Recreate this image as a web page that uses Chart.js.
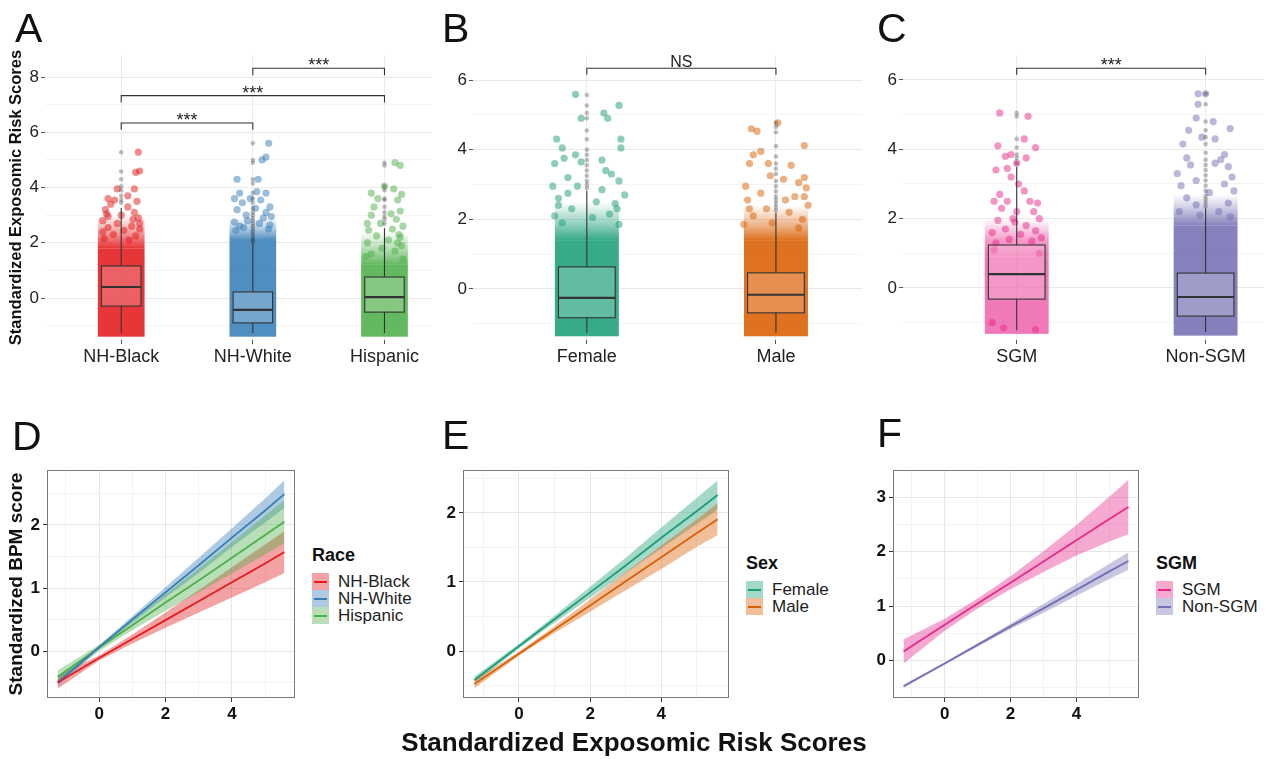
<!DOCTYPE html>
<html>
<head>
<meta charset="utf-8">
<script src="https://cdn.jsdelivr.net/npm/chart.js@4/dist/chart.umd.min.js"></script>
<style>
  body { margin: 0; background: #fff; font-family: 'Liberation Sans', Arial, sans-serif; }
  #page { position: relative; width: 1268px; height: 759px; overflow: hidden; }
  canvas { position: absolute; }
  .letter { position: absolute; font-size: 41px; line-height: 1; color: #111; }
  .xtitle { position: absolute; left: 0; width: 1268px; top: 729px; text-align: center; font-size: 26px; font-weight: bold; line-height: 1; color: #111; }
  .leg { position: absolute; color: #222; }
  .leg .t { font-weight: bold; font-size: 18px; line-height: 1; color: #111; margin-bottom: 9px; }
  .leg .row { display: flex; align-items: center; height: 17px; font-size: 17px; }
  .leg .key { width: 17px; height: 17px; position: relative; margin-right: 9px; }
  .leg .key span { position: absolute; left: 2px; right: 2px; top: 7.5px; height: 2px; }
</style>
</head>
<body>
<div id="page">
  <canvas id="cA" width="436" height="380" style="left:0;top:0"></canvas>
  <canvas id="cB" width="430" height="380" style="left:436px;top:0"></canvas>
  <canvas id="cC" width="402" height="380" style="left:866px;top:0"></canvas>
  <canvas id="cD" width="300" height="330" style="left:0;top:400px"></canvas>
  <canvas id="cE" width="304" height="330" style="left:430px;top:400px"></canvas>
  <canvas id="cF" width="294" height="330" style="left:850px;top:400px"></canvas>

  <div class="letter" style="left:15px;top:8px">A</div>
  <div class="letter" style="left:442px;top:8px">B</div>
  <div class="letter" style="left:877px;top:8px">C</div>
  <div class="letter" style="left:12px;top:416px">D</div>
  <div class="letter" style="left:442px;top:415px">E</div>
  <div class="letter" style="left:877px;top:413px">F</div>
  <div class="xtitle">Standardized Exposomic Risk Scores</div>
</div>
<script>
// ---------- top row: exposomic risk score by group ----------
const raceGroups = ['NH-Black', 'NH-White', 'Hispanic'];
const raceColors = ['#E41A1C', '#377EB8', '#4DAF4A'];
const raceQ1 = [-0.29, -0.90, -0.51];
const raceMedian = [0.40, -0.43, 0.03];
const raceQ3 = [1.16, 0.22, 0.76];
const raceLow = [-1.27, -1.27, -1.27];
const raceHigh = [3.26, 2.00, 2.53];
const raceDenseTop = [1.8, 2.1, 1.2];
const raceFadeTop = [3.0, 2.9, 2.4];
const raceSparse = [
  [[-0.12,3.2],[-0.08,3.4],[0.05,3.3],[0.1,3.1],[0.13,2.9],[-0.14,2.8],[-0.03,2.7],[0.08,2.6],[0.14,2.5],[-0.1,2.55],[0.02,2.45],[-0.06,2.3],[0.11,2.25],[-0.13,2.15],[0.06,2.1],[0.0,3.0],[-0.1,3.6],[0.05,3.7],[0.1,3.95],[-0.03,3.95],[0.11,4.55],[0.14,4.6],[0.13,5.28],[-0.1,2.95],[0.12,3.5],[-0.05,3.55],[-0.14,2.4],[0.14,2.7],[-0.11,3.05],[0.09,2.85]],
  [[-0.1,2.6],[0.05,2.7],[0.12,2.5],[-0.13,2.45],[0.08,2.9],[-0.05,3.0],[0.1,3.1],[-0.12,3.2],[0.02,3.25],[0.13,3.3],[-0.08,3.45],[0.06,3.55],[-0.14,3.6],[0.1,3.8],[-0.1,3.8],[0.03,3.85],[-0.12,4.3],[0.04,4.3],[0.07,5.0],[0.1,5.1],[0.12,5.6],[-0.04,2.8],[0.14,2.95],[-0.02,3.6],[-0.14,2.75],[0.13,2.65],[-0.07,2.55]],
  [[-0.1,1.6],[0.08,1.7],[0.13,1.9],[-0.13,2.0],[0.03,2.1],[-0.06,2.25],[0.11,2.3],[-0.12,2.45],[0.06,2.5],[0.14,2.6],[-0.03,2.7],[0.09,2.85],[-0.1,3.0],[0.05,3.05],[0.12,3.15],[-0.08,3.3],[0.1,3.55],[-0.05,3.6],[0.13,3.75],[-0.1,3.8],[0.07,3.95],[0.0,4.05],[0.12,4.8],[0.08,4.9],[-0.02,1.8],[0.1,2.0],[-0.14,1.5],[0.14,1.4],[-0.13,2.7],[0.12,2.2]]
];
const raceOutliers = [
  [3.45, 3.55, 3.7, 3.9, 4.05, 4.3, 4.58, 5.28],
  [2.05, 2.1, 2.2, 2.3, 2.4, 2.5, 2.6, 2.7, 2.8, 2.9, 3.0, 3.1, 3.25, 3.45, 3.6, 3.8, 4.15, 4.3, 4.9, 5.0, 5.6],
  [2.7, 2.85, 2.95, 3.1, 3.3, 3.55, 3.6, 3.9, 4.05, 4.8, 4.9]
];
const raceBrackets = [[1, 2, 6.34, '***'], [1, 3, 7.33, '***'], [2, 3, 8.32, '***']];
const riskGridA = [-1, 0, 1, 2, 3, 4, 5, 6, 7, 8];
const riskLabelsA = [0, 2, 4, 6, 8];

const sexGroups = ['Female', 'Male'];
const sexColors = ['#1B9E77', '#D95F02'];
const sexQ1 = [-0.83, -0.69];
const sexMedian = [-0.26, -0.17];
const sexQ3 = [0.63, 0.46];
const sexLow = [-1.26, -1.26];
const sexHigh = [2.82, 2.18];
const sexDenseTop = [1.4, 1.4];
const sexFadeTop = [2.5, 2.4];
const sexSparse = [
  [[-0.06,5.59],[0.17,5.27],[0.09,5.05],[0.11,4.9],[-0.03,4.9],[-0.16,4.3],[0.18,4.3],[-0.13,4.05],[0.18,4.05],[-0.06,3.85],[0.08,3.7],[-0.17,3.6],[-0.12,3.75],[-0.03,3.65],[0.13,3.3],[0.17,3.1],[0.2,2.7],[-0.18,2.95],[-0.05,2.95],[0.1,3.4],[-0.1,3.2],[0.05,2.5],[-0.15,2.6],[0.15,2.45],[-0.08,2.3],[0.12,2.15],[-0.17,2.1],[0.03,2.05],[-0.13,1.9],[0.17,1.85],[-0.1,2.75],[0.08,2.85],[0.16,2.3],[-0.15,2.4]],
  [[0.01,4.77],[-0.13,4.6],[-0.1,4.53],[0.15,4.12],[-0.08,3.95],[-0.12,3.85],[-0.14,3.6],[-0.04,3.6],[0.08,3.55],[0.04,3.15],[-0.03,3.25],[0.15,3.2],[0.12,3.05],[0.16,2.9],[-0.16,2.95],[-0.08,2.75],[0.1,2.65],[-0.15,2.55],[0.17,2.4],[-0.05,2.3],[0.07,2.2],[-0.12,2.1],[0.14,2.0],[-0.02,1.9],[-0.17,1.85],[0.12,1.75],[-0.14,2.3],[0.05,2.55],[0.15,2.65]]
];
const sexOutliers = [
  [2.9, 3.0, 3.1, 3.25, 3.4, 3.55, 3.7, 3.85, 4.0, 4.3, 4.55, 4.9, 5.05, 5.27, 5.57],
  [2.25, 2.35, 2.45, 2.55, 2.65, 2.8, 2.95, 3.1, 3.3, 3.45, 3.6, 3.8, 4.1, 4.5, 4.65, 4.77]
];
const sexBrackets = [[1, 2, 6.34, 'NS']];

const sgmGroups = ['SGM', 'Non-SGM'];
const sgmColors = ['#E7298A', '#7570B3'];
const sgmQ1 = [-0.32, -0.81];
const sgmMedian = [0.40, -0.26];
const sgmQ3 = [1.24, 0.43];
const sgmLow = [-1.22, -1.27];
const sgmHigh = [3.49, 2.29];
const sgmDenseTop = [0.9, 1.8];
const sgmFadeTop = [2.0, 2.7];
const sgmSparse = [
  [[-0.09,5.05],[0.06,4.95],[-0.1,4.1],[0.1,4.05],[0.04,4.3],[-0.06,3.8],[-0.03,3.85],[-0.05,3.45],[-0.11,3.4],[0.05,3.75],[0.0,3.6],[-0.03,3.2],[0.01,3.0],[-0.09,2.7],[-0.05,2.5],[0.07,2.5],[0.11,2.45],[-0.12,2.5],[-0.08,2.3],[0.09,2.2],[0.12,2.0],[-0.02,2.0],[-0.1,1.95],[0.05,1.8],[-0.06,1.7],[0.1,1.65],[-0.13,1.6],[0.02,1.55],[0.13,1.45],[-0.04,1.4],[0.08,1.35],[-0.11,1.3],[0.0,2.2],[0.04,2.8],[-0.01,1.9],[-0.12,1.1],[0.12,1.0],[-0.07,-1.15],[0.1,-1.2],[-0.13,-1.0]],
  [[-0.04,5.6],[-0.04,5.3],[0.0,5.6],[-0.05,4.9],[0.04,4.8],[-0.09,4.55],[0.13,4.6],[0.05,4.3],[-0.12,4.15],[-0.02,4.35],[-0.1,3.75],[0.1,3.85],[0.08,3.7],[-0.08,3.55],[0.12,3.5],[0.05,3.6],[-0.15,3.3],[0.14,3.2],[-0.05,3.1],[0.1,3.0],[-0.13,2.95],[0.15,2.8],[0.02,2.75],[-0.1,2.6],[0.12,2.45],[-0.05,2.4],[0.07,2.2],[-0.14,2.2],[0.13,2.05],[-0.03,2.1]]
];
const sgmOutliers = [
  [3.6, 3.75, 3.85, 4.05, 4.3, 4.95, 5.05],
  [2.35, 2.45, 2.55, 2.65, 2.8, 2.95, 3.1, 3.25, 3.4, 3.55, 3.7, 3.9, 4.15, 4.35, 4.55, 4.8, 5.3, 5.6]
];
const sgmBrackets = [[1, 2, 6.34, '***']];
const riskGridBC = [-1, 0, 1, 2, 3, 4, 5, 6];
const riskLabelsBC = [0, 2, 4, 6];

// ---------- bottom row: fitted BPM score vs risk score ----------
const fitX = [-1.25, 0, 1, 2, 3, 4, 5, 5.58];
const raceFit = [
  [-0.50, -0.11, 0.19, 0.49, 0.79, 1.09, 1.39, 1.57],
  [-0.50, 0.06, 0.50, 0.93, 1.36, 1.80, 2.23, 2.49],
  [-0.41, 0.05, 0.41, 0.77, 1.12, 1.48, 1.84, 2.05]
];
const raceLo = [
  [-0.60, -0.15, 0.12, 0.37, 0.61, 0.85, 1.09, 1.24],
  [-0.56, 0.03, 0.45, 0.85, 1.24, 1.65, 2.04, 2.27],
  [-0.51, 0.00, 0.33, 0.64, 0.93, 1.23, 1.53, 1.71]
];
const raceHi = [
  [-0.39, -0.07, 0.26, 0.61, 0.97, 1.33, 1.69, 1.90],
  [-0.44, 0.09, 0.55, 1.01, 1.48, 1.95, 2.42, 2.71],
  [-0.31, 0.10, 0.49, 0.90, 1.31, 1.73, 2.15, 2.39]
];
const sexFit = [
  [-0.42, 0.07, 0.46, 0.85, 1.24, 1.64, 2.03, 2.26],
  [-0.48, -0.04, 0.31, 0.66, 1.01, 1.36, 1.71, 1.91]
];
const sexLo = [
  [-0.47, 0.04, 0.41, 0.77, 1.13, 1.49, 1.84, 2.05],
  [-0.54, -0.07, 0.26, 0.57, 0.88, 1.19, 1.51, 1.68]
];
const sexHi = [
  [-0.37, 0.10, 0.51, 0.93, 1.35, 1.79, 2.22, 2.47],
  [-0.42, -0.01, 0.36, 0.75, 1.14, 1.53, 1.91, 2.14]
];
const sgmFit = [
  [0.17, 0.66, 1.05, 1.43, 1.82, 2.21, 2.60, 2.82],
  [-0.47, -0.05, 0.29, 0.63, 0.96, 1.30, 1.64, 1.83]
];
const sgmLo = [
  [-0.05, 0.55, 0.96, 1.31, 1.63, 1.93, 2.19, 2.32],
  [-0.50, -0.07, 0.26, 0.58, 0.88, 1.19, 1.50, 1.67]
];
const sgmHi = [
  [0.39, 0.77, 1.14, 1.55, 2.01, 2.49, 3.01, 3.32],
  [-0.44, -0.03, 0.32, 0.68, 1.04, 1.41, 1.78, 1.99]
];
const scoreGridX = [-1, 0, 1, 2, 3, 4, 5];
const scoreLabelsX = [0, 2, 4];
const bpmGridDE = [-0.5, 0, 0.5, 1, 1.5, 2, 2.5];
const bpmLabelsDE = [0, 1, 2];
const bpmGridF = [-0.5, 0, 0.5, 1, 1.5, 2, 2.5, 3, 3.5];
const bpmLabelsF = [0, 1, 2, 3];

const FONT = "'Liberation Sans', Arial, sans-serif";
Chart.defaults.font.family = FONT;
Chart.defaults.animation = false;

function hexA(hex, a) {
  const n = parseInt(hex.slice(1), 16);
  return `rgba(${n >> 16},${(n >> 8) & 255},${n & 255},${a})`;
}

function boxPanel(id, p) {
  const datasets = [];
  p.groups.forEach((g, i) => {
    datasets.push({
      data: p.sparse[i].map(([dx, y]) => ({ x: i + 1 + dx, y })),
      backgroundColor: hexA(p.colors[i], 0.5), borderWidth: 0, pointRadius: 3.6, order: 2
    });
    datasets.push({
      data: p.outliers[i].map(y => ({ x: i + 1, y })),
      backgroundColor: 'rgba(40,40,40,0.3)', borderWidth: 0, pointRadius: 2.3, order: 1
    });
  });

  // jitter cloud, boxes and significance brackets
  const layer = {
    id: 'boxLayer',
    beforeDatasetsDraw(chart) {
      const { ctx, scales: { x, y } } = chart;
      p.groups.forEach((g, i) => {
        const l = x.getPixelForValue(i + 1 - 0.15) - 3.6;
        const r = x.getPixelForValue(i + 1 + 0.15) + 3.6;
        const bot = y.getPixelForValue(p.low[i]) + 3.6;
        const dense = y.getPixelForValue(p.dense[i]);
        const fade = y.getPixelForValue(p.fade[i]);
        ctx.fillStyle = hexA(p.colors[i], p.denseAlpha[i]);
        ctx.fillRect(l, dense, r - l, bot - dense);
        // thinning of the cloud towards the top
        const grad = ctx.createLinearGradient(0, dense, 0, fade);
        grad.addColorStop(0, hexA(p.colors[i], p.denseAlpha[i]));
        grad.addColorStop(0.45, hexA(p.colors[i], 0.45));
        grad.addColorStop(1, hexA(p.colors[i], 0));
        ctx.fillStyle = grad;
        ctx.fillRect(l, fade, r - l, dense - fade);
      });
    },
    afterDatasetsDraw(chart) {
      const { ctx, scales: { x, y } } = chart;
      ctx.save();
      ctx.strokeStyle = '#333';
      p.groups.forEach((g, i) => {
        const cx = x.getPixelForValue(i + 1);
        const l = x.getPixelForValue(i + 1 - 0.15);
        const r = x.getPixelForValue(i + 1 + 0.15);
        const q1 = y.getPixelForValue(p.q1[i]), q3 = y.getPixelForValue(p.q3[i]);
        const md = y.getPixelForValue(p.med[i]);
        ctx.lineWidth = 1.1;
        ctx.beginPath();
        ctx.moveTo(cx, q3); ctx.lineTo(cx, y.getPixelForValue(p.high[i]));
        ctx.moveTo(cx, q1); ctx.lineTo(cx, y.getPixelForValue(p.low[i]));
        ctx.stroke();
        ctx.fillStyle = 'rgba(255,255,255,0.22)';
        ctx.fillRect(l, q3, r - l, q1 - q3);
        ctx.strokeRect(l, q3, r - l, q1 - q3);
        ctx.lineWidth = 2.2;
        ctx.beginPath(); ctx.moveTo(l, md); ctx.lineTo(r, md); ctx.stroke();
      });
      ctx.lineWidth = 1.1;
      ctx.fillStyle = '#222';
      ctx.textAlign = 'center';
      ctx.textBaseline = 'alphabetic';
      p.brackets.forEach(([a, b, v, label]) => {
        const x1 = x.getPixelForValue(a), x2 = x.getPixelForValue(b);
        const yy = y.getPixelForValue(v), yt = y.getPixelForValue(v - p.tail);
        ctx.beginPath();
        ctx.moveTo(x1, yt); ctx.lineTo(x1, yy); ctx.lineTo(x2, yy); ctx.lineTo(x2, yt);
        ctx.stroke();
        ctx.font = label === 'NS' ? `16px ${FONT}` : `18px ${FONT}`;
        ctx.fillText(label, (x1 + x2) / 2, label === 'NS' ? yy - 1 : yy + 3);
      });
      ctx.restore();
    }
  };

  return new Chart(document.getElementById(id), {
    type: 'scatter',
    data: { datasets },
    plugins: [layer],
    options: {
      responsive: false,
      devicePixelRatio: 1,
      layout: { padding: { top: 55, left: 0, right: 0, bottom: 0 } },
      plugins: { legend: { display: false }, tooltip: { enabled: false } },
      scales: {
        x: {
          type: 'linear', min: p.xMin, max: p.xMax,
          afterBuildTicks: s => { s.ticks = p.groups.map((g, i) => ({ value: i + 1 })); },
          afterFit: s => { s.height = 40; },
          ticks: { callback: v => p.groups[v - 1], color: '#222', font: { size: 18 }, padding: 2, autoSkip: false, maxRotation: 0 },
          grid: { color: '#ebebeb', tickColor: '#555', tickLength: 4 },
          border: { display: false }
        },
        y: {
          min: p.yMin, max: p.yMax,
          afterBuildTicks: s => { s.ticks = p.grid.map(v => ({ value: v })); },
          afterFit: s => { s.width = p.yWidth; },
          ticks: { callback: v => p.labeled.includes(v) ? String(v) : '', color: '#222', font: { size: 17 }, padding: 2 },
          grid: {
            color: c => p.labeled.includes(c.tick.value) ? '#e9e9e9' : '#f4f4f4',
            tickColor: c => p.labeled.includes(c.tick.value) ? '#555' : 'rgba(0,0,0,0)',
            tickLength: 4
          },
          border: { display: false },
          title: p.yTitle ? { display: true, text: p.yTitle, color: '#111', font: { size: 16.5, weight: 'bold' }, padding: { top: 7, bottom: 0 } } : { display: false }
        }
      }
    }
  });
}

function fitPanel(id, p) {
  const datasets = [];
  p.groups.forEach((g, i) => {
    datasets.push({ data: fitX.map((x, k) => ({ x, y: p.hi[i][k] })), fill: '+1', backgroundColor: hexA(p.colors[i], 0.4), borderWidth: 0, pointRadius: 0, order: 10 - i });
    datasets.push({ data: fitX.map((x, k) => ({ x, y: p.lo[i][k] })), fill: false, borderWidth: 0, pointRadius: 0, order: 10 - i });
  });
  p.groups.forEach((g, i) => {
    datasets.push({ data: fitX.map((x, k) => ({ x, y: p.fit[i][k] })), fill: false, borderColor: p.colors[i], borderWidth: 1.8, pointRadius: 0, order: 0 });
  });

  const frame = {
    id: 'frame',
    afterDraw(chart) {
      const { ctx, chartArea: a } = chart;
      ctx.save();
      ctx.strokeStyle = '#7a7a7a';
      ctx.lineWidth = 1;
      ctx.strokeRect(a.left + 0.5, a.top + 0.5, a.right - a.left - 1, a.bottom - a.top - 1);
      ctx.restore();
    }
  };

  const gridStyle = labels => ({
    color: c => labels.includes(c.tick.value) ? '#e6e6e6' : '#f3f3f3',
    tickColor: c => labels.includes(c.tick.value) ? '#333' : 'rgba(0,0,0,0)',
    tickLength: 4
  });

  return new Chart(document.getElementById(id), {
    type: 'line',
    data: { datasets },
    plugins: [frame],
    options: {
      responsive: false,
      devicePixelRatio: 1,
      layout: { padding: { top: 70, right: 5, left: 0, bottom: 0 } },
      plugins: { legend: { display: false }, tooltip: { enabled: false } },
      elements: { line: { tension: 0 } },
      scales: {
        x: {
          type: 'linear', min: -1.57, max: 5.9,
          afterBuildTicks: s => { s.ticks = scoreGridX.map(v => ({ value: v })); },
          afterFit: s => { s.height = 32; },
          ticks: { callback: v => scoreLabelsX.includes(v) ? String(v) : '', color: '#111', font: { size: 17, weight: 'bold' }, padding: 2, autoSkip: false, maxRotation: 0 },
          grid: gridStyle(scoreLabelsX),
          border: { display: false }
        },
        y: {
          type: 'linear', min: p.yMin, max: p.yMax,
          afterBuildTicks: s => { s.ticks = p.grid.map(v => ({ value: v })); },
          afterFit: s => { s.width = p.yWidth; },
          ticks: { callback: v => p.labeled.includes(v) ? String(v) : '', color: '#111', font: { size: 17, weight: 'bold' }, padding: 3 },
          grid: gridStyle(p.labeled),
          border: { display: false },
          title: p.yTitle ? { display: true, text: p.yTitle, color: '#111', font: { size: 19, weight: 'bold' }, padding: { top: 5, bottom: 0 } } : { display: false }
        }
      }
    }
  });
}

function legend(left, top, title, groups, colors) {
  const box = document.createElement('div');
  box.className = 'leg';
  box.style.left = left + 'px';
  box.style.top = top + 'px';
  let html = `<div class="t">${title}</div>`;
  groups.forEach((g, i) => {
    html += `<div class="row"><div class="key" style="background:${hexA(colors[i], 0.4)}"><span style="background:${colors[i]}"></span></div>${g}</div>`;
  });
  box.innerHTML = html;
  document.getElementById('page').appendChild(box);
}

boxPanel('cA', {
  groups: raceGroups, colors: raceColors, q1: raceQ1, med: raceMedian, q3: raceQ3, low: raceLow, high: raceHigh,
  dense: raceDenseTop, fade: raceFadeTop, denseAlpha: [0.88, 0.88, 0.88], sparse: raceSparse, outliers: raceOutliers,
  brackets: raceBrackets, tail: 0.25, xMin: 0.421, xMax: 3.361, yMin: -1.52, yMax: 8.80,
  grid: riskGridA, labeled: riskLabelsA, yWidth: 45, yTitle: 'Standardized Exposomic Risk Scores'
});
boxPanel('cB', {
  groups: sexGroups, colors: sexColors, q1: sexQ1, med: sexMedian, q3: sexQ3, low: sexLow, high: sexHigh,
  dense: sexDenseTop, fade: sexFadeTop, denseAlpha: [0.88, 0.88], sparse: sexSparse, outliers: sexOutliers,
  brackets: sexBrackets, tail: 0.19, xMin: 0.398, xMax: 2.455, yMin: -1.47, yMax: 6.72,
  grid: riskGridBC, labeled: riskLabelsBC, yWidth: 37
});
boxPanel('cC', {
  groups: sgmGroups, colors: sgmColors, q1: sgmQ1, med: sgmMedian, q3: sgmQ3, low: sgmLow, high: sgmHigh,
  dense: sgmDenseTop, fade: sgmFadeTop, denseAlpha: [0.62, 0.88], sparse: sgmSparse, outliers: sgmOutliers,
  brackets: sgmBrackets, tail: 0.19, xMin: 0.398, xMax: 2.309, yMin: -1.50, yMax: 6.72,
  grid: riskGridBC, labeled: riskLabelsBC, yWidth: 37
});

fitPanel('cD', { groups: raceGroups, colors: raceColors, fit: raceFit, lo: raceLo, hi: raceHi,
  yMin: -0.746, yMax: 2.873, grid: bpmGridDE, labeled: bpmLabelsDE, yWidth: 47, yTitle: 'Standardized BPM score' });
fitPanel('cE', { groups: sexGroups, colors: sexColors, fit: sexFit, lo: sexLo, hi: sexHi,
  yMin: -0.681, yMax: 2.623, grid: bpmGridDE, labeled: bpmLabelsDE, yWidth: 33 });
fitPanel('cF', { groups: sgmGroups, colors: sgmColors, fit: sgmFit, lo: sgmLo, hi: sgmHi,
  yMin: -0.685, yMax: 3.501, grid: bpmGridF, labeled: bpmLabelsF, yWidth: 43 });

legend(312, 546, 'Race', raceGroups, raceColors);
legend(746, 554, 'Sex', sexGroups, sexColors);
legend(1156, 554, 'SGM', sgmGroups, sgmColors);
</script>
</body>
</html>
